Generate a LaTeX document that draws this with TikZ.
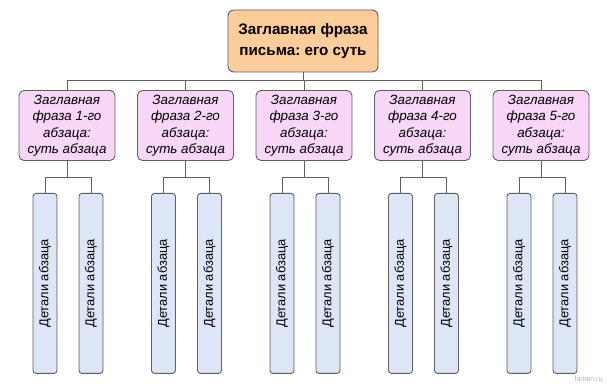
\documentclass[tikz,border=0pt]{standalone}
\usepackage{fontspec}
\setmainfont{Liberation Sans}
\usepackage{graphicx}
\usetikzlibrary{positioning}
\definecolor{peach}{RGB}{252,204,153}
\definecolor{orchid}{RGB}{248,214,248}
\definecolor{paleblue}{RGB}{220,230,246}
\definecolor{edge}{RGB}{95,95,95}
\frenchspacing

\begin{document}
\begin{tikzpicture}[x=1pt, y=1pt,
  topbox/.style={draw=edge, fill=peach, rounded corners=6pt, line width=0.9pt,
                 minimum width=150pt, minimum height=62pt, align=center,
                 font=\fontsize{15.2}{21}\selectfont\bfseries},
  parbox/.style={draw=edge, fill=orchid, rounded corners=5pt, line width=0.9pt,
                 minimum width=96pt, minimum height=70pt, align=center, inner sep=1pt,
                 font=\fontsize{13.4}{16.5}\selectfont\itshape},
  detbox/.style={draw=edge, fill=paleblue, rounded corners=3pt, line width=0.9pt,
                 minimum width=24pt, minimum height=180pt, inner sep=0pt,
                 font=\fontsize{12.8}{14}\selectfont},
  conn/.style={draw=edge, line width=0.9pt},
  wmark/.style={font=\fontsize{7}{8}\selectfont, color=gray!60}
]
  \fill[white] (0,0) rectangle (611,-385);
  \useasboundingbox (0,0) rectangle (611,-385);

  \node[topbox] (top) at (303,-41) {Заглавная фраза\\письма: его суть};

  \foreach \i in {1,...,5} {
    \node[parbox] (p\i) at ({67+118.5*(\i-1)},-125.5)
      {Заглавная\\фраза \i-го\\абзаца:\\суть абзаца};
    \node[detbox, below=32pt of p\i, xshift=-22pt] (d\i a) {\rotatebox{90}{Детали абзаца}};
    \node[detbox, below=32pt of p\i, xshift=24pt] (d\i b) {\rotatebox{90}{Детали абзаца}};
    \draw[conn] (top.south) -- ++(0,-8) -| (p\i.north);
    \draw[conn] (p\i.south) -- ++(0,-16.5) -| (d\i a.north);
    \draw[conn] (p\i.south) -- ++(0,-16.5) -| (d\i b.north);
  }

  \node[wmark, anchor=south east] (wm) at (606,-385) {betteri.ru};
\end{tikzpicture}
\end{document}
